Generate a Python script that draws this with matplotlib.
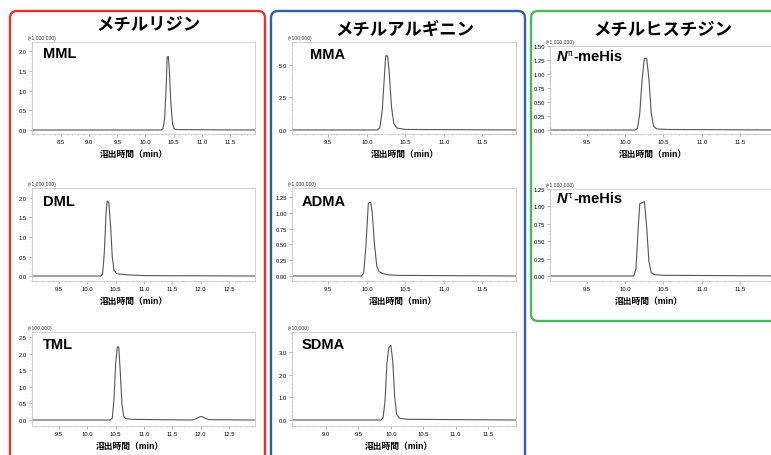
import matplotlib.pyplot as plt
from matplotlib.patches import FancyBboxPatch
from matplotlib.ticker import MultipleLocator, AutoMinorLocator

plt.rcParams['font.family'] = ['Liberation Sans', 'Noto Sans CJK JP', 'DejaVu Sans']

W, H = 771, 456

# chromatogram traces (time in min, intensity in the panel's unit)
mml_t = [7.99, 10.28, 10.31, 10.34, 10.37, 10.385, 10.405, 10.42, 10.45, 10.48, 10.51, 10.56, 11.94]
mml_y = [0.0, 0.0, 0.03, 0.3, 1.2, 1.85, 1.86, 1.6, 0.7, 0.15, 0.03, 0.01, 0.0]
dml_t = [9.03, 10.24, 10.27, 10.30, 10.33, 10.35, 10.38, 10.41, 10.44, 10.47, 10.52, 10.7, 11.0, 12.95]
dml_y = [0.0, 0.0, 0.05, 0.6, 1.6, 1.92, 1.88, 1.3, 0.5, 0.15, 0.06, 0.03, 0.01, 0.0]
tml_t = [9.03, 10.40, 10.44, 10.47, 10.50, 10.53, 10.555, 10.58, 10.61, 10.64, 10.68, 10.8,
         11.86, 11.93, 11.99, 12.03, 12.08, 12.15, 12.95]
tml_y = [0.0, 0.0, 0.05, 0.6, 1.7, 2.2, 2.2, 1.5, 0.5, 0.12, 0.04, 0.02,
         0.0, 0.05, 0.1, 0.1, 0.05, 0.01, 0.0]
mma_t = [9.04, 10.14, 10.17, 10.20, 10.23, 10.245, 10.27, 10.29, 10.32, 10.35, 10.39, 10.5, 11.93]
mma_y = [0.0, 0.0, 0.2, 1.5, 4.3, 5.7, 5.7, 4.5, 1.8, 0.5, 0.15, 0.04, 0.0]
adma_t = [9.03, 9.93, 9.96, 9.99, 10.02, 10.05, 10.07, 10.10, 10.13, 10.16, 10.20, 10.28, 10.40, 11.93]
adma_y = [0.0, 0.0, 0.05, 0.5, 1.15, 1.17, 1.0, 0.5, 0.15, 0.07, 0.04, 0.02, 0.01, 0.0]
sdma_t = [8.48, 9.85, 9.88, 9.91, 9.94, 9.97, 10.0, 10.03, 10.06, 10.09, 10.13, 10.25, 11.93]
sdma_y = [0.0, 0.0, 0.1, 0.8, 2.5, 3.2, 3.3, 2.6, 1.0, 0.25, 0.08, 0.03, 0.0]
npi_t = [9.02, 10.13, 10.16, 10.19, 10.22, 10.25, 10.28, 10.31, 10.34, 10.37, 10.41, 10.55, 12.15]
npi_y = [0.0, 0.0, 0.03, 0.3, 0.9, 1.28, 1.28, 0.9, 0.3, 0.07, 0.02, 0.01, 0.0]
ntau_t = [9.02, 10.11, 10.14, 10.17, 10.19, 10.22, 10.25, 10.28, 10.31, 10.34, 10.38, 10.5, 12.15]
ntau_y = [0.0, 0.0, 0.1, 0.7, 1.04, 1.05, 1.07, 0.7, 0.2, 0.05, 0.02, 0.01, 0.0]

group_titles = ['メチルリジン', 'メチルアルギニン', 'メチルヒスチジン']

# name, trace, multiplier, x tick labels, y tick labels, decimals
panels = [
    ('MML', mml_t, mml_y, '(×1,000,000)', [8.5, 9.0, 9.5, 10.0, 10.5, 11.0, 11.5], [0.0, 0.5, 1.0, 1.5, 2.0], 1),
    ('DML', dml_t, dml_y, '(×1,000,000)', [9.5, 10.0, 10.5, 11.0, 11.5, 12.0, 12.5], [0.0, 0.5, 1.0, 1.5, 2.0], 1),
    ('TML', tml_t, tml_y, '(×100,000)', [9.5, 10.0, 10.5, 11.0, 11.5, 12.0, 12.5], [0.0, 0.5, 1.0, 1.5, 2.0, 2.5], 1),
    ('MMA', mma_t, mma_y, '(×100,000)', [9.5, 10.0, 10.5, 11.0, 11.5], [0.0, 2.5, 5.0], 1),
    ('ADMA', adma_t, adma_y, '(×1,000,000)', [9.5, 10.0, 10.5, 11.0, 11.5], [0.0, 0.25, 0.5, 0.75, 1.0, 1.25], 2),
    ('SDMA', sdma_t, sdma_y, '(×10,000)', [9.0, 9.5, 10.0, 10.5, 11.0, 11.5], [0.0, 1.0, 2.0, 3.0], 1),
    ('Nπ', npi_t, npi_y, '(×1,000,000)', [9.5, 10.0, 10.5, 11.0, 11.5], [0.0, 0.25, 0.5, 0.75, 1.0, 1.25, 1.5], 2),
    ('Nτ', ntau_t, ntau_y, '(×1,000,000)', [9.5, 10.0, 10.5, 11.0, 11.5], [0.0, 0.25, 0.5, 0.75, 1.0, 1.25], 2),
]

# layout in pixels: axes box (l, t, r, b), xlim, ylim, label pos, xlabel centre
layout = [
    ((32, 43, 255, 135), (7.985, 11.944), (-0.101, 2.228), (43, 54), 134),
    ((32, 189, 255, 282), (9.024, 12.959), (-0.128, 2.256), (43, 202), 134),
    ((32, 333, 255, 427), (9.024, 12.959), (-0.18, 2.65), (43, 345), 130),
    ((292, 43, 516, 135), (9.03, 11.935), (-0.31, 6.77), (310, 55), 405),
    ((292, 189, 516, 282), (9.03, 11.935), (-0.079, 1.392), (302, 202), 403),
    ((292, 333, 516, 427), (8.475, 11.932), (-0.265, 3.88), (302, 345), 399),
    ((550, 47, 790, 135), (9.016, 12.154), (-0.071, 1.5), (557, 57), 653),
    ((550, 190, 790, 282), (9.016, 12.154), (-0.072, 1.25), (557, 199), 649),
]

fig = plt.figure(figsize=(W / 100, H / 100), dpi=100)

ov = fig.add_axes([0, 0, 1, 1], zorder=0)
ov.set_xlim(0, W)
ov.set_ylim(H, 0)
ov.set_axis_off()

boxes = [((10, 12), 255, 470, '#e3322f'), ((271, 12), 254, 470, '#2f5fac'), ((531, 12), 260, 310, '#4db757')]
for (x0, y0), bw, bh, col in boxes:
    ov.add_patch(FancyBboxPatch((x0, y0), bw, bh, boxstyle='round,pad=0,rounding_size=7',
                                fill=False, ec=col, lw=1.7, clip_on=False))

title_pos = [(148, 25), (405, 30), (663, 30)]
for txt, (tx, ty) in zip(group_titles, title_pos):
    ov.text(tx, ty, txt, ha='center', va='center', fontsize=12.5, fontweight='bold',
            family=['Noto Sans CJK JP'])

for (name, t, y, mult, xt, yt, dec), (box, xl, yl, lab, xc) in zip(panels, layout):
    l, tp, r, b = box
    ax = fig.add_axes([l / W, 1 - b / H, (r - l) / W, (b - tp) / H], zorder=1)
    ax.plot(t, y, color='#555555', lw=0.8)
    ax.set_xlim(*xl)
    ax.set_ylim(*yl)
    ax.set_xticks(xt)
    ax.set_xticklabels([f'{v:.1f}' for v in xt])
    ax.set_yticks(yt)
    ax.set_yticklabels([f'{v:.{dec}f}' for v in yt])
    ax.xaxis.set_minor_locator(MultipleLocator(0.1))
    ax.yaxis.set_minor_locator(AutoMinorLocator(5))
    ax.tick_params(which='major', length=2, width=0.5, color='#999999', labelsize=4.2, pad=1.5)
    ax.tick_params(which='minor', length=1, width=0.4, color='#aaaaaa')
    for sp in ax.spines.values():
        sp.set_color('#c8c8c8')
        sp.set_linewidth(0.6)
    ax.patch.set_alpha(0)

    ov.text(l - 4, tp - 2, mult, ha='left', va='bottom', fontsize=3.6, color='#333333')
    ov.text(xc, b + 20, '溶出時間（min）', ha='center', va='center', fontsize=6.3, fontweight='bold')

    lx, ly = lab
    if name.startswith('N'):
        ov.text(lx, ly, 'N', ha='left', va='center', fontsize=10.5, fontweight='bold', style='italic')
        ov.text(lx + 11, ly - 3.5, name[1], ha='left', va='center', fontsize=5.5,
                family=['DejaVu Sans'])
        ov.text(lx + 16, ly, '-meHis', ha='left', va='center', fontsize=10.5, fontweight='bold')
    else:
        ov.text(lx, ly, name, ha='left', va='center', fontsize=10.5, fontweight='bold')

fig.savefig('out.png', dpi=100)
